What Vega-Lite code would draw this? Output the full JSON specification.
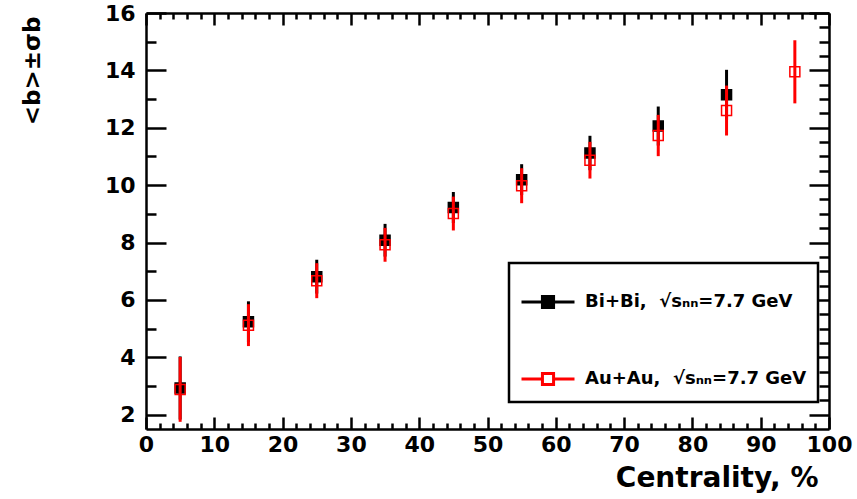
{
  "$schema": "https://vega.github.io/schema/vega-lite/v6.json",
  "width": 683,
  "height": 416,
  "autosize": {"type": "none"},
  "padding": {"left": 146, "top": 13, "right": 28, "bottom": 70},
  "background": "white",
  "data": {
    "values": [
      {"series": "Bi+Bi", "centrality": 5, "b": 2.93, "sigma": 1.1},
      {"series": "Bi+Bi", "centrality": 15, "b": 5.24, "sigma": 0.71},
      {"series": "Bi+Bi", "centrality": 25, "b": 6.81, "sigma": 0.59},
      {"series": "Bi+Bi", "centrality": 35, "b": 8.08, "sigma": 0.57},
      {"series": "Bi+Bi", "centrality": 45, "b": 9.22, "sigma": 0.54},
      {"series": "Bi+Bi", "centrality": 55, "b": 10.19, "sigma": 0.54},
      {"series": "Bi+Bi", "centrality": 65, "b": 11.12, "sigma": 0.6},
      {"series": "Bi+Bi", "centrality": 75, "b": 12.06, "sigma": 0.68},
      {"series": "Bi+Bi", "centrality": 85, "b": 13.15, "sigma": 0.87},
      {"series": "Au+Au", "centrality": 5, "b": 2.88, "sigma": 1.13},
      {"series": "Au+Au", "centrality": 15, "b": 5.12, "sigma": 0.73},
      {"series": "Au+Au", "centrality": 25, "b": 6.67, "sigma": 0.61},
      {"series": "Au+Au", "centrality": 35, "b": 7.92, "sigma": 0.59},
      {"series": "Au+Au", "centrality": 45, "b": 9.01, "sigma": 0.59},
      {"series": "Au+Au", "centrality": 55, "b": 9.98, "sigma": 0.61},
      {"series": "Au+Au", "centrality": 65, "b": 10.87, "sigma": 0.64},
      {"series": "Au+Au", "centrality": 75, "b": 11.73, "sigma": 0.72},
      {"series": "Au+Au", "centrality": 85, "b": 12.6, "sigma": 0.87},
      {"series": "Au+Au", "centrality": 95, "b": 13.95, "sigma": 1.1}
    ]
  },
  "layer": [
    {
      "transform": [{"filter": "datum.series === 'Bi+Bi'"}],
      "mark": {"type": "errorbar", "color": "black", "thickness": 3},
      "encoding": {
        "x": {"field": "centrality", "type": "quantitative", "scale": {"domain": [0, 100], "nice": false}, "axis": null},
        "y": {"field": "b", "type": "quantitative", "scale": {"domain": [1.5, 16], "nice": false, "zero": false}, "axis": null},
        "yError": {"field": "sigma"}
      }
    },
    {
      "transform": [{"filter": "datum.series === 'Bi+Bi'"}],
      "mark": {"type": "point", "shape": "square", "size": 100, "strokeWidth": 1.5, "opacity": 1},
      "encoding": {
        "x": {
          "field": "centrality", "type": "quantitative",
          "axis": {
            "orient": "bottom",
            "values": [0,2,4,6,8,10,12,14,16,18,20,22,24,26,28,30,32,34,36,38,40,42,44,46,48,50,52,54,56,58,60,62,64,66,68,70,72,74,76,78,80,82,84,86,88,90,92,94,96,98,100],
            "format": "d",
            "labelExpr": "datum.value % 10 === 0 ? datum.label : ''",
            "tickSize": {"condition": {"test": "datum.value % 10 === 0", "value": -12}, "value": -6},
            "labelPadding": 17,
            "labelBaseline": "top",
            "title": "Centrality, %",
            "titleX": 672,
            "titleY": 57,
            "titleAlign": "right",
            "titleBaseline": "alphabetic",
            "titleFontSize": 28
          }
        },
        "y": {
          "field": "b", "type": "quantitative",
          "axis": {
            "orient": "left",
            "values": [2,2.5,3,3.5,4,4.5,5,5.5,6,6.5,7,7.5,8,8.5,9,9.5,10,10.5,11,11.5,12,12.5,13,13.5,14,14.5,15,15.5,16],
            "format": "d",
            "labelExpr": "datum.value % 2 === 0 ? datum.label : ''",
            "tickSize": {"condition": {"test": "datum.value % 2 === 0", "value": -20}, "value": -10},
            "labelPadding": 31,
            "labelFontSize": 22,
            "title": "<b>±σb",
            "titleAngle": 270,
            "titleX": -114,
            "titleY": 3,
            "titleAlign": "right",
            "titleBaseline": "middle",
            "titleFontSize": 23
          }
        },
        "stroke": {
          "field": "series", "type": "nominal",
          "scale": {"domain": ["Bi+Bi", "Au+Au"], "range": ["black", "#ff0000"]},
          "legend": {
            "orient": "none",
            "legendX": 363,
            "legendY": 250,
            "title": null,
            "labelExpr": "datum.label + ', \u00a0√sₙₙ=7.7 GeV'",
            "symbolType": "M-1,0H-0.21M0.21,0H1M-0.21,-0.21H0.21V0.21H-0.21Z",
            "symbolSize": 2809,
            "symbolStrokeWidth": 3,
            "labelOffset": 9,
            "rowPadding": 37,
            "padding": 11,
            "fillColor": "white",
            "strokeColor": "black"
          }
        },
        "fill": {"field": "series", "type": "nominal", "scale": {"domain": ["Bi+Bi", "Au+Au"], "range": ["black", "transparent"]}}
      }
    },
    {
      "transform": [{"filter": "datum.series === 'Au+Au'"}],
      "mark": {"type": "errorbar", "color": "#ff0000", "thickness": 3},
      "encoding": {
        "x": {"field": "centrality", "type": "quantitative", "axis": null},
        "y": {"field": "b", "type": "quantitative", "axis": null},
        "yError": {"field": "sigma"}
      }
    },
    {
      "transform": [{"filter": "datum.series === 'Au+Au'"}],
      "mark": {"type": "point", "shape": "square", "size": 100, "strokeWidth": 1.5, "opacity": 1},
      "encoding": {
        "x": {
          "field": "centrality", "type": "quantitative",
          "axis": {
            "orient": "top",
            "values": [0,2,4,6,8,10,12,14,16,18,20,22,24,26,28,30,32,34,36,38,40,42,44,46,48,50,52,54,56,58,60,62,64,66,68,70,72,74,76,78,80,82,84,86,88,90,92,94,96,98,100],
            "labels": false,
            "tickSize": {"condition": {"test": "datum.value % 10 === 0", "value": -12}, "value": -6},
            "title": null
          }
        },
        "y": {
          "field": "b", "type": "quantitative",
          "axis": {
            "orient": "right",
            "values": [2,2.5,3,3.5,4,4.5,5,5.5,6,6.5,7,7.5,8,8.5,9,9.5,10,10.5,11,11.5,12,12.5,13,13.5,14,14.5,15,15.5,16],
            "labels": false,
            "tickSize": {"condition": {"test": "datum.value % 2 === 0", "value": -20}, "value": -10},
            "title": null
          }
        },
        "stroke": {"field": "series", "type": "nominal"},
        "fill": {"field": "series", "type": "nominal"}
      }
    }
  ],
  "resolve": {"axis": {"x": "independent", "y": "independent"}},
  "config": {
    "view": {"stroke": null},
    "axis": {
      "grid": false,
      "domainColor": "black",
      "domainWidth": 2.5,
      "tickColor": "black",
      "tickWidth": 2.5,
      "labelFont": "DejaVu Sans",
      "labelFontWeight": "bold",
      "labelFontSize": 22,
      "labelColor": "black",
      "labelOverlap": false,
      "labelFlush": false,
      "titleFont": "DejaVu Sans",
      "titleFontWeight": "bold",
      "titleColor": "black"
    },
    "legend": {
      "labelFont": "DejaVu Sans",
      "labelFontWeight": "bold",
      "labelFontSize": 18,
      "labelColor": "black",
      "labelLimit": 400,
      "strokeWidth": 2.5
    }
  }
}
